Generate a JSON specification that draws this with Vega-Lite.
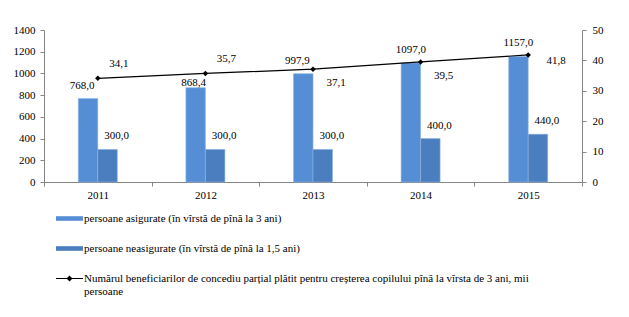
{
  "$schema": "https://vega.github.io/schema/vega-lite/v6.json",
  "autosize": {"type": "none"},
  "width": 538,
  "height": 152,
  "padding": {"left": 44, "top": 30, "right": 47, "bottom": 135},
  "background": "white",
  "config": {
    "view": {"stroke": null},
    "font": "'Liberation Serif', 'Times New Roman', serif",
    "locale": {"number": {"decimal": ",", "thousands": "", "grouping": [3], "currency": ["", ""]}},
    "axis": {"labelFont": "'Liberation Serif', 'Times New Roman', serif", "labelFontSize": 11, "labelColor": "black", "domainColor": "#868686", "tickColor": "#868686", "tickSize": 4, "grid": false, "title": null},
    "legend": {"labelFont": "'Liberation Serif', 'Times New Roman', serif"},
    "text": {"font": "'Liberation Serif', 'Times New Roman', serif", "fontSize": 11, "color": "black"}
  },
  "data": {"values": [
    {"year": "2011", "kind": "asig", "series": "persoane asigurate (în vîrstă de pînă la 3 ani)", "value": 768.0},
    {"year": "2012", "kind": "asig", "series": "persoane asigurate (în vîrstă de pînă la 3 ani)", "value": 868.4},
    {"year": "2013", "kind": "asig", "series": "persoane asigurate (în vîrstă de pînă la 3 ani)", "value": 997.9},
    {"year": "2014", "kind": "asig", "series": "persoane asigurate (în vîrstă de pînă la 3 ani)", "value": 1097.0},
    {"year": "2015", "kind": "asig", "series": "persoane asigurate (în vîrstă de pînă la 3 ani)", "value": 1157.0},
    {"year": "2011", "kind": "neasig", "series": "persoane neasigurate (în vîrstă de pînă la 1,5 ani)", "value": 300.0},
    {"year": "2012", "kind": "neasig", "series": "persoane neasigurate (în vîrstă de pînă la 1,5 ani)", "value": 300.0},
    {"year": "2013", "kind": "neasig", "series": "persoane neasigurate (în vîrstă de pînă la 1,5 ani)", "value": 300.0},
    {"year": "2014", "kind": "neasig", "series": "persoane neasigurate (în vîrstă de pînă la 1,5 ani)", "value": 400.0},
    {"year": "2015", "kind": "neasig", "series": "persoane neasigurate (în vîrstă de pînă la 1,5 ani)", "value": 440.0},
    {"year": "2011", "kind": "benef", "series": "Numărul beneficiarilor de concediu parțial plătit pentru creșterea copilului pînă la vîrsta de 3 ani, mii persoane", "value": 34.1},
    {"year": "2012", "kind": "benef", "series": "Numărul beneficiarilor de concediu parțial plătit pentru creșterea copilului pînă la vîrsta de 3 ani, mii persoane", "value": 35.7},
    {"year": "2013", "kind": "benef", "series": "Numărul beneficiarilor de concediu parțial plătit pentru creșterea copilului pînă la vîrsta de 3 ani, mii persoane", "value": 37.1},
    {"year": "2014", "kind": "benef", "series": "Numărul beneficiarilor de concediu parțial plătit pentru creșterea copilului pînă la vîrsta de 3 ani, mii persoane", "value": 39.5},
    {"year": "2015", "kind": "benef", "series": "Numărul beneficiarilor de concediu parțial plătit pentru creșterea copilului pînă la vîrsta de 3 ani, mii persoane", "value": 41.8}
  ]},
  "encoding": {
    "x": {"field": "year", "type": "ordinal", "scale": {"paddingInner": 0, "paddingOuter": 0},
          "axis": {"labelAngle": 0, "tickBand": "extent", "labelPadding": 3, "domainColor": "#868686"}}
  },
  "layer": [
    {
      "transform": [{"filter": "datum.kind !== 'benef'"}],
      "encoding": {
        "y": {"field": "value", "type": "quantitative", "scale": {"domain": [0, 1400]},
              "axis": {"values": [0, 200, 400, 600, 800, 1000, 1200, 1400], "labelPadding": 5, "orient": "left"}},
        "xOffset": {"field": "kind", "type": "nominal", "sort": ["asig", "neasig"], "scale": {"paddingInner": 0, "paddingOuter": 0, "range": [34.3, 73.3]}}
      },
      "layer": [
        {
          "mark": {"type": "bar", "stroke": "#8EB4E3", "strokeWidth": 0.6},
          "encoding": {
            "fill": {"field": "kind", "type": "nominal", "legend": null,
              "scale": {"domain": ["asig", "neasig"], "range": ["#558ED5", "#4A7EBF"]}}
          }
        },
        {
          "transform": [{"filter": "datum.kind === 'asig' && (datum.year === '2011' || datum.year === '2013')"}],
          "mark": {"type": "text", "dx": -6, "dy": -13, "baseline": "middle"},
          "encoding": {"text": {"field": "value", "type": "quantitative", "format": ".1f"}}
        },
        {
          "transform": [{"filter": "datum.kind === 'asig' && datum.year === '2012'"}],
          "mark": {"type": "text", "dx": -2, "dy": -5, "baseline": "middle"},
          "encoding": {"text": {"field": "value", "type": "quantitative", "format": ".1f"}}
        },
        {
          "transform": [{"filter": "datum.kind === 'asig' && (datum.year === '2014' || datum.year === '2015')"}],
          "mark": {"type": "text", "dx": 0, "dy": -13, "baseline": "middle"},
          "encoding": {"text": {"field": "value", "type": "quantitative", "format": ".1f"}}
        },
        {
          "transform": [{"filter": "datum.kind === 'neasig'"}],
          "mark": {"type": "text", "dx": 9, "dy": -13, "baseline": "middle"},
          "encoding": {"text": {"field": "value", "type": "quantitative", "format": ".1f"}}
        }
      ]
    },
    {
      "transform": [{"filter": "datum.kind === 'benef'"}],
      "encoding": {
        "y": {"field": "value", "type": "quantitative", "scale": {"domain": [0, 50]},
              "axis": {"orient": "right", "values": [0, 10, 20, 30, 40, 50], "labelPadding": 6}}
      },
      "layer": [
        {"mark": {"type": "line", "color": "black", "strokeWidth": 1.2}},
        {"mark": {"type": "point", "shape": "diamond", "filled": true, "color": "black", "size": 30, "opacity": 1}},
        {
          "mark": {"type": "point", "filled": true, "opacity": 0},
          "encoding": {
            "color": {"field": "series", "type": "nominal",
              "scale": {"domain": ["persoane asigurate (în vîrstă de pînă la 3 ani)", "persoane neasigurate (în vîrstă de pînă la 1,5 ani)", "Numărul beneficiarilor de concediu parțial plătit pentru creșterea copilului pînă la vîrsta de 3 ani, mii persoane"],
                        "range": ["#558ED5", "#4A7EBF", "black"]},
              "legend": {
                "orient": "none", "legendX": 12, "legendY": 175, "direction": "vertical", "columns": 1, "title": null,
                "padding": 0, "symbolSize": 729, "symbolStrokeWidth": 0, "symbolOpacity": 1, "rowPadding": 11, "gridAlign": "none",
                "labelFont": "'Liberation Serif', 'Times New Roman', serif", "labelFontSize": 11, "labelColor": "black", "labelOffset": 1, "labelLimit": 700,
                "labelExpr": "indexof(datum.label, 'Num') === 0 ? ['Numărul beneficiarilor de concediu parțial plătit pentru creșterea copilului pînă la vîrsta de 3 ani, mii', 'persoane'] : datum.label"
              }
            },
            "shape": {"field": "series", "type": "nominal",
              "scale": {"domain": ["persoane asigurate (în vîrstă de pînă la 3 ani)", "persoane neasigurate (în vîrstă de pînă la 1,5 ani)", "Numărul beneficiarilor de concediu parțial plătit pentru creșterea copilului pînă la vîrsta de 3 ani, mii persoane"],
                        "range": ["M-1,-0.17H1V0.17H-1Z", "M-1,-0.17H1V0.17H-1Z", "M-1,-0.04H1V0.04H-1Z M0,-0.22L0.22,0L0,0.22L-0.22,0Z"]},
              "legend": {
                "orient": "none", "legendX": 12, "legendY": 175, "direction": "vertical", "columns": 1, "title": null,
                "padding": 0, "symbolSize": 729, "symbolStrokeWidth": 0, "symbolOpacity": 1, "rowPadding": 11, "gridAlign": "none",
                "labelFont": "'Liberation Serif', 'Times New Roman', serif", "labelFontSize": 11, "labelColor": "black", "labelOffset": 1, "labelLimit": 700,
                "labelExpr": "indexof(datum.label, 'Num') === 0 ? ['Numărul beneficiarilor de concediu parțial plătit pentru creșterea copilului pînă la vîrsta de 3 ani, mii', 'persoane'] : datum.label"
              }
            }
          }
        },
        {
          "transform": [{"filter": "datum.year === '2011' || datum.year === '2012'"}],
          "mark": {"type": "text", "dx": 21, "dy": -14.5, "baseline": "middle"},
          "encoding": {"text": {"field": "value", "type": "quantitative", "format": ".1f"}}
        },
        {
          "transform": [{"filter": "datum.year === '2013' || datum.year === '2014'"}],
          "mark": {"type": "text", "dx": 23, "dy": 14, "baseline": "middle"},
          "encoding": {"text": {"field": "value", "type": "quantitative", "format": ".1f"}}
        },
        {
          "transform": [{"filter": "datum.year === '2015'"}],
          "mark": {"type": "text", "dx": 28, "dy": 6, "baseline": "middle"},
          "encoding": {"text": {"field": "value", "type": "quantitative", "format": ".1f"}}
        }
      ]
    }
  ],
  "resolve": {"scale": {"y": "independent"}}
}
